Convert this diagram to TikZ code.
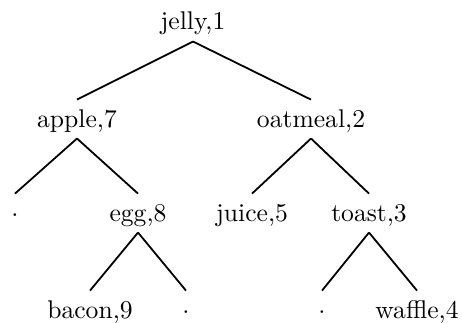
\documentclass[tikz,border=0pt]{standalone}
\begin{document}
\begin{tikzpicture}[x=0.390625pt,y=-0.390625pt,
  lab/.style={inner xsep=0pt,inner ysep=3.5pt,text height=7pt,text depth=0.8pt,anchor=base,font=\fontsize{10}{12}\selectfont},
  edge/.style={line width=0.7pt}]
\useasboundingbox (0,0) rectangle (462,322);
\node[lab] (jelly) at (193,30) {jelly,1};
\node[lab] (apple) at (77,127) {apple,7};
\node[lab] (oatmeal) at (311,127) {oatmeal,2};
\node[lab] (d1) at (15,221) {$\cdot$};
\node[lab] (egg) at (138,221) {egg,8};
\node[lab] (juice) at (252,221) {juice,5};
\node[lab] (toast) at (369,221) {toast,3};
\node[lab] (bacon) at (90,318) {bacon,9};
\node[lab] (d2) at (186,318) {$\cdot$};
\node[lab] (d3) at (322,318) {$\cdot$};
\node[lab] (waffle) at (417,318) {waffle,4};
\draw[edge] (jelly.south) -- (apple.north);
\draw[edge] (jelly.south) -- (oatmeal.north);
\draw[edge] (apple.south) -- (d1.north);
\draw[edge] (apple.south) -- (egg.north);
\draw[edge] (oatmeal.south) -- (juice.north);
\draw[edge] (oatmeal.south) -- (toast.north);
\draw[edge] (egg.south) -- (bacon.north);
\draw[edge] (egg.south) -- (d2.north);
\draw[edge] (toast.south) -- (d3.north);
\draw[edge] (toast.south) -- (waffle.north);
\end{tikzpicture}
\end{document}
